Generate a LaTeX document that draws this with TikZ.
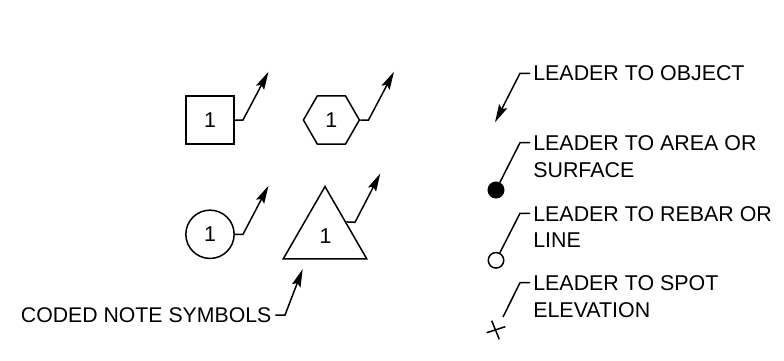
\documentclass[tikz,border=0pt]{standalone}
\usepackage{fontspec}
\setmainfont{Liberation Sans}
\usetikzlibrary{arrows.meta,shapes.geometric}
\tikzset{
  lw/.style={line width=1.5pt,line join=miter},
  sym/.style={draw,lw,inner sep=0pt,font=\fontsize{21.4}{21.4}\selectfont},
  lead/.style={lw},
  leadarrow/.style={lw,-{Stealth[length=18pt,width=9pt,inset=3pt]}},
  lbl/.style={inner sep=0pt,outer sep=0pt,anchor=north west,align=left,font=\fontsize{21.4}{26.7}\selectfont},
}
\begin{document}
\begin{tikzpicture}[x=1pt,y=-1pt]
\useasboundingbox (0,0) rectangle (784,361);
% symbols
\node[sym,rectangle,minimum size=48.3pt] (sq) at (210,120) {1};
\node[sym,regular polygon,regular polygon sides=6,minimum size=56pt] (hex) at (331.4,120) {1};
\node[sym,circle,minimum size=48.3pt] (cir) at (210,234.3) {1};
\node[sym,regular polygon,regular polygon sides=3,minimum size=96.3pt] (tri) at (325,234.7) {};
\node[inner sep=0pt,font=\fontsize{21.4}{21.4}\selectfont] (trilab) at (325.5,236) {1};
% coordinates of leaders
\coordinate (sqk) at (243,120);   \coordinate (sqt) at (268.5,71.7);
\coordinate (hexk) at (368.5,120);\coordinate (hext) at (394,71.7);
\coordinate (cirk) at (243,234.3);\coordinate (cirt) at (268.5,185.7);
\coordinate (trik) at (355,222.3);\coordinate (trit) at (380.3,173.5);
\draw[leadarrow] (sq.east) -- (sqk) -- (sqt);
\draw[leadarrow] (hex.east) -- (hexk) -- (hext);
\draw[leadarrow] (cir.east) -- (cirk) -- (cirt);
\draw[leadarrow] (tri.31) -- (trik) -- (trit);
% coded note
\node[inner sep=0pt,anchor=east,font=\fontsize{21.25}{21.25}\selectfont] (coded) at (271.5,315.5) {CODED NOTE SYMBOLS};
\coordinate (codeds) at (275.3,315);
\coordinate (codedk) at (285,315);\coordinate (codedt) at (302.7,269);
\draw[leadarrow] (codeds) -- (codedk) -- (codedt);
% right column
\node[lbl] (a) at (533.3,66) {LEADER TO OBJECT};
\node[lbl] (b) at (533.3,135.6) {LEADER TO AREA OR\\SURFACE};
\node[lbl] (c) at (533.3,206.3) {LEADER TO REBAR OR\\LINE};
\node[lbl] (d) at (533.3,275.6) {LEADER TO SPOT\\ELEVATION};
\coordinate (as) at (530,73.3); \coordinate (ak) at (520,73.3); \coordinate (at) at (495,122.3);
\coordinate (bs) at (530,142.7);\coordinate (bk) at (520,142.7);
\coordinate (cs) at (530,213.3);\coordinate (ck) at (520,213.3);
\coordinate (ds) at (530,282.7);\coordinate (dk) at (520,282.7);\coordinate (de) at (503,317);
\draw[leadarrow] (as) -- (ak) -- (at);
\node[circle,fill=black,draw,lw,minimum size=15.5pt,inner sep=0pt] (dot) at (496,190) {};
\node[circle,draw,lw,minimum size=15.5pt,inner sep=0pt] (ring) at (496,260.3) {};
\draw[lead] (bs) -- (bk) -- (dot);
\draw[lead] (cs) -- (ck) -- (ring);
\draw[lead] (ds) -- (dk) -- (de);
\coordinate (x1) at (486.7,332.7);\coordinate (x2) at (505.3,326.7);
\coordinate (x3) at (491.7,320.7);\coordinate (x4) at (499.3,339.3);
\draw[lead] (x1) -- (x2);
\draw[lead] (x3) -- (x4);
\end{tikzpicture}
\end{document}
